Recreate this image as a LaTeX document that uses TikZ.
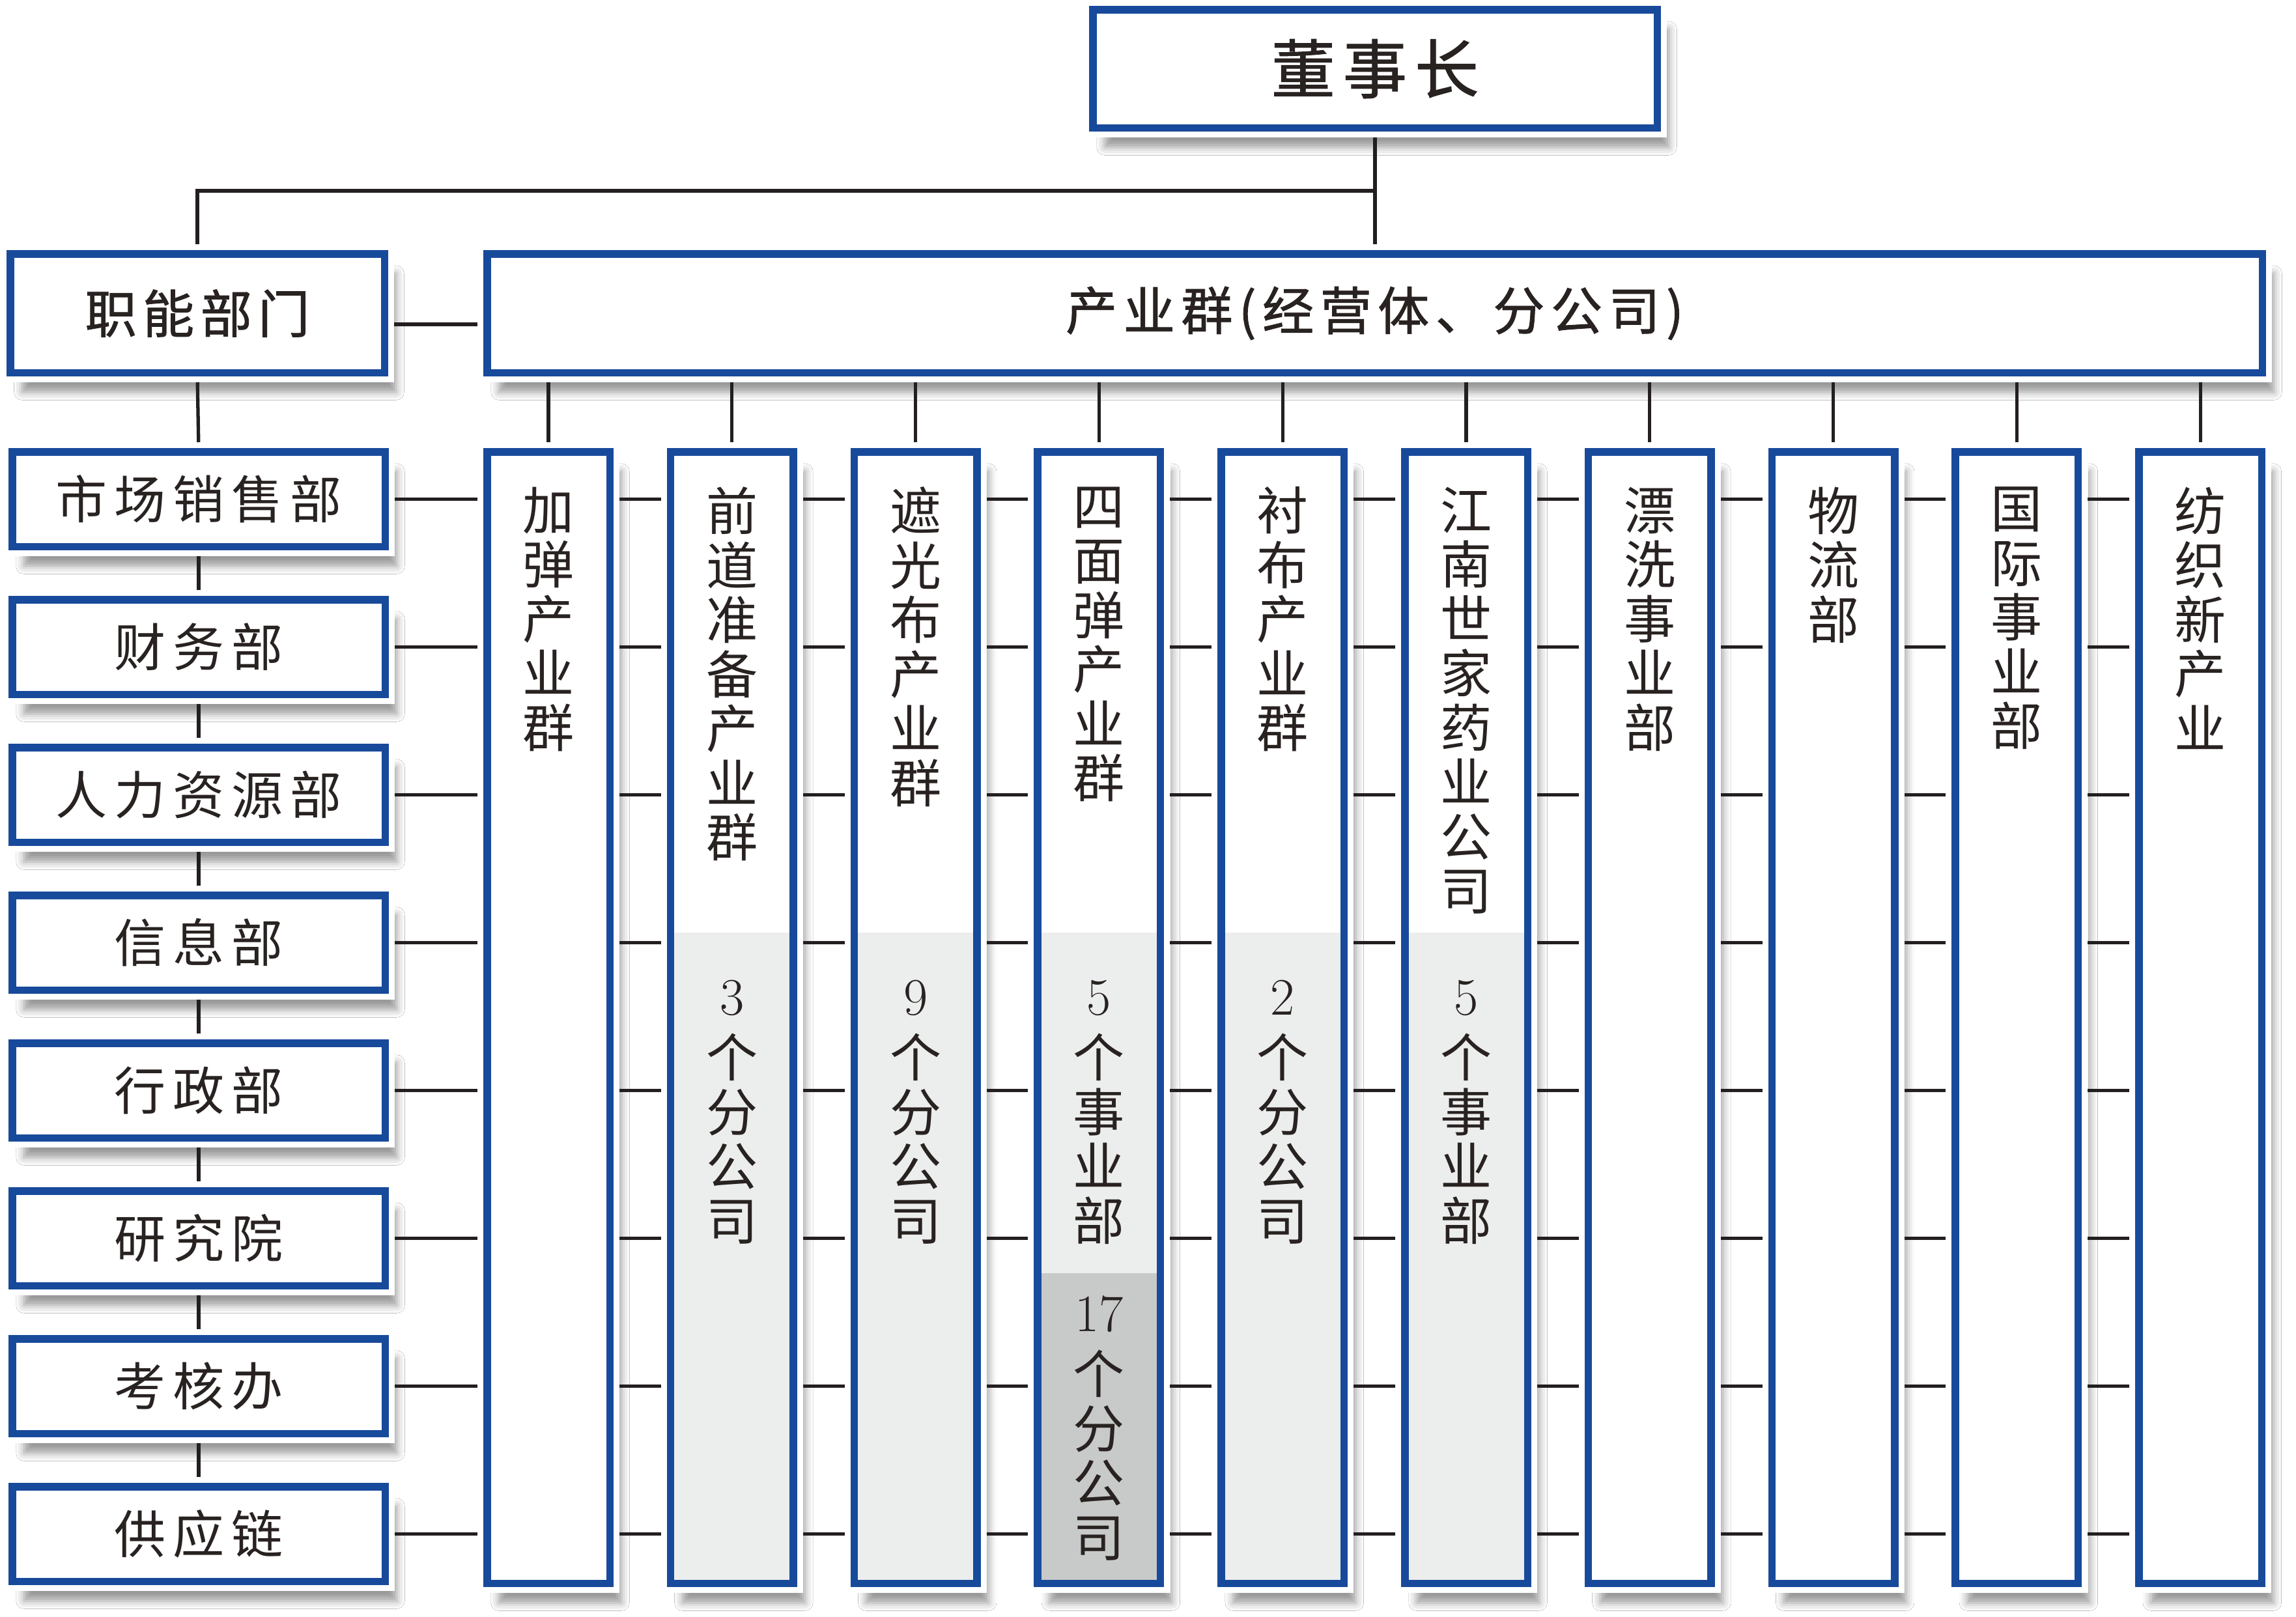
\documentclass[tikz,border=0pt]{standalone}
\usepackage{fontspec}
\usepackage{xcolor}
\usepackage{tikz}
\usetikzlibrary{positioning, calc, shadows.blur}

\newfontfamily\cjk{Noto Sans CJK SC}
\newfontfamily\cjkwide[LetterSpace=14]{Noto Sans CJK SC}
\newfontfamily\cjkhead[LetterSpace=12, FakeBold=1.2]{Noto Sans CJK SC}

\definecolor{boxblue}{RGB}{24,74,155}
\definecolor{inktext}{RGB}{40,34,33}
\definecolor{linkblack}{RGB}{35,31,32}
\definecolor{greylight}{RGB}{236,238,237}
\definecolor{greydark}{RGB}{200,201,201}

\tikzset{
  orgbox/.style={draw=boxblue, line width=0.115cm, fill=white, inner sep=0pt, text=inktext,
    blur shadow={shadow xshift=0.18cm, shadow yshift=-0.3cm, shadow blur radius=0.12cm},
    preaction={draw=white, line width=0.3cm}},
  headfont/.style={font=\cjkhead\fontsize{22.5pt}{27pt}\selectfont},
  deptfont/.style={font=\cjkwide\fontsize{22.5pt}{27pt}\selectfont},
  coltext/.style={align=center, inner sep=0pt, text=inktext, anchor=north,
    font=\cjk\fontsize{22.5pt}{0.835cm}\selectfont},
  greybox/.style={fill=greylight, inner sep=0pt, minimum width=1.77cm, anchor=north},
  link/.style={draw=linkblack, line width=1.5pt, shorten <=0.09cm, shorten >=0.09cm}
}

\newcommand{\digits}[1]{{\rmfamily\fontsize{23pt}{27pt}\selectfont #1}}

\begin{document}
\begin{tikzpicture}
    % Canvas
    \fill[white] (0,0) rectangle (35.25,-24.82);
    \useasboundingbox (0,0) rectangle (35.25,-24.82);

    % Top boxes
    \node[orgbox, minimum width=8.665cm, minimum height=1.815cm,
      font=\cjkhead\fontsize{28pt}{32pt}\selectfont] (chair) at (21.11,-1.055) {董事长};
    \node[orgbox, headfont, minimum width=5.745cm, minimum height=1.825cm] (func) at (3.03,-4.81) {职能部门};
    \node[orgbox, headfont, minimum width=27.255cm, minimum height=1.825cm] (industry) at (21.105,-4.81) {产业群(经营体、分公司)};

    % Functional departments
    \foreach \name [count=\i] in {市场销售部, 财务部, 人力资源部, 信息部, 行政部, 研究院, 考核办, 供应链} {
      \node[orgbox, deptfont, minimum width=5.725cm, minimum height=1.455cm] (d\i) at (3.05, {-7.665-2.27*(\i-1)}) {\name};
    }

    % Industry columns
    \foreach \i in {1,...,10} {
      \node[orgbox, minimum width=1.885cm, minimum height=17.375cm] (c\i) at ({8.42+2.818*(\i-1)}, -15.625) {};
    }

    % Grey lower parts
    \coordinate (greytop) at (0,-14.31);
    \coordinate (darktop) at (0,-19.54);
    \foreach \i in {2,...,6} {
      \node[greybox, minimum height=9.945cm] (g\i) at (c\i |- greytop) {};
    }
    \node[greybox, fill=greydark, minimum height=4.715cm] (h4) at (c4 |- darktop) {};

    % Column titles
    \foreach \i/\txt in {1/加\\弹\\产\\业\\群, 2/前\\道\\准\\备\\产\\业\\群, 3/遮\\光\\布\\产\\业\\群,
        4/四\\面\\弹\\产\\业\\群, 5/衬\\布\\产\\业\\群, 6/江\\南\\世\\家\\药\\业\\公\\司,
        7/漂\\洗\\事\\业\\部, 8/物\\流\\部, 9/国\\际\\事\\业\\部, 10/纺\\织\\新\\产\\业} {
      \node[coltext] (t\i) at ($(c\i.north)+(0,-0.59)$) {\txt};
    }

    % Numbers in the grey parts
    \node[coltext] (n2) at ($(g2.north)+(0,-0.73)$) {\digits{3}\\[0.12cm]个\\分\\公\\司};
    \node[coltext] (n3) at ($(g3.north)+(0,-0.73)$) {\digits{9}\\[0.12cm]个\\分\\公\\司};
    \node[coltext] (n4) at ($(g4.north)+(0,-0.73)$) {\digits{5}\\[0.12cm]个\\事\\业\\部};
    \node[coltext] (m4) at ($(h4.north)+(0,-0.35)$) {\digits{17}\\[0.12cm]个\\分\\公\\司};
    \node[coltext] (n5) at ($(g5.north)+(0,-0.73)$) {\digits{2}\\[0.12cm]个\\分\\公\\司};
    \node[coltext] (n6) at ($(g6.north)+(0,-0.73)$) {\digits{5}\\[0.12cm]个\\事\\业\\部};

    % Connectors from the top
    \coordinate (split) at (21.11,-2.93);
    \draw[link] (chair.south) -- (chair.south |- industry.north);
    \draw[link, shorten >=0pt] (func.north) |- (split);
    \draw[link] ([yshift=-0.17cm]func.east) -- ([yshift=-0.17cm]industry.west);

    % Left stack
    \draw[link] (func.south) -- (d1.north);
    \foreach \i [evaluate=\i as \j using int(\i+1)] in {1,...,7} {
      \draw[link] (d\i.south) -- (d\j.north);
    }

    % Stubs to the columns
    \foreach \i in {1,...,10} {
      \draw[link] (industry.south -| c\i) -- (c\i.north);
    }

    % Row lines across the columns
    \foreach \r in {1,...,8} {
      \draw[link] (d\r.east) -- (d\r.east -| c1.west);
      \foreach \i [evaluate=\i as \j using int(\i+1)] in {1,...,9} {
        \draw[link] (d\r.east -| c\i.east) -- (d\r.east -| c\j.west);
      }
    }
\end{tikzpicture}
\end{document}
